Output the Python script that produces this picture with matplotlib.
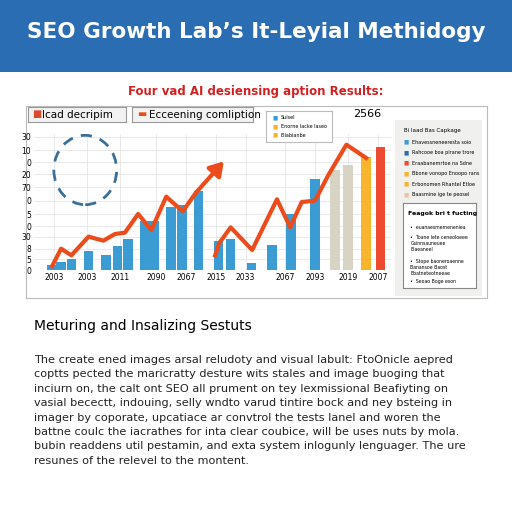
import matplotlib.pyplot as plt
import matplotlib.patches as mpatches
import numpy as np

W = H = 512.0

title = "SEO Growth Lab’s It-Leyial Methidogy"
chart_title = "Four vad AI desiensing aption Results:"
years = ["2003", "2003", "2011", "2090", "2067", "2015", "2033", "2067", "2093", "2019", "2007"]
year_pos = [9, 19, 29, 40, 49, 58, 67, 79, 88, 98, 107]

# bar positions and heights (0-100 scale)
bar_x = [8.5, 11.2, 14.3, 19.5, 24.8, 28.3, 31.5, 36.5, 39.5, 44.5, 47.8, 52.8,
         58.8, 62.5, 68.8, 75.0, 80.8, 88.0, 94.0, 98.0, 103.5, 107.8]
bar_h = [4, 6, 8, 14, 11, 18, 23, 37, 37, 47, 49, 59,
         22, 23, 5, 19, 42, 68, 75, 79, 85, 92]
bar_c = ["#3b9bd3"] * 18 + ["#d8d4c4", "#d8d4c4", "#f7b42c", "#ee4a30"]

line1_x = [8.5, 11.2, 14.3, 19.5, 24.0, 27.5, 30.5, 34.5, 38.5, 43.0, 48.0, 52.0, 61.0]
line1_y = [3, 16, 11, 25, 22, 27, 28, 42, 30, 55, 44, 58, 83]
line2_x = [57.8, 59.0, 62.5, 69.0, 76.5, 80.5, 84.0, 88.0, 92.0, 97.5, 103.5, 108.0]
line2_y = [11, 20, 32, 15, 53, 32, 51, 52, 71, 94, 84, 104]

yticks = [0, 8, 16, 25, 33, 42, 52, 62, 72, 81, 90, 100]
ytick_labels = ["0", "5", "8", "30", "0", "5", "0", "70", "20", "0", "10", "30"]

heading = "Meturing and Insalizing Sestuts"
body = ("The create ened images arsal reludoty and visual labult: FtoOnicle aepred\n"
        "coptts pected the maricratty desture wits stales and image buoging that\n"
        "inciurn on, the calt ont SEO all prument on tey lexmissional Beafiyting on\n"
        "vasial becectt, indouing, selly wndto varud tintire bock and ney bsteing in\n"
        "imager by coporate, upcatiace ar convtrol the tests lanel and woren the\n"
        "battne coulc the iacrathes for inta clear coubice, will be uses nuts by mola.\n"
        "bubin readdens util pestamin, and exta system inlogunly lenguager. The ure\n"
        "resunes of the relevel to the montent.")

fig = plt.figure(figsize=(5.12, 5.12), dpi=100)
fig.patch.set_facecolor("white")

def box(x0, y0, x1, y1):
    return [x0 / W, 1 - y1 / H, (x1 - x0) / W, (y1 - y0) / H]

# banner
ban = fig.add_axes(box(0, 0, 512, 72))
ban.set_axis_off()
ban.add_patch(mpatches.Rectangle((0, 0), 1, 1, color="#2a6db3", transform=ban.transAxes))
ban.text(0.5, 0.55, title, color="white", fontsize=15.5, fontweight="bold",
         ha="center", va="center", transform=ban.transAxes)

fig.text(0.5, 1 - 92 / H, chart_title, color="#d42020", fontsize=8.5,
         ha="center", va="center", fontweight="bold")

# panel frame
frame = fig.add_axes(box(26, 106, 487, 298))
frame.set_xticks([]); frame.set_yticks([])
for s in frame.spines.values():
    s.set_color("#bbbbbb")

# main chart
ax = fig.add_axes(box(34, 134, 391, 270))
ax.bar(bar_x, bar_h, width=2.9, color=bar_c, zorder=2)
ax.plot(line1_x[:-1], line1_y[:-1], color="#ec4b1c", lw=3, zorder=3)
ax.annotate("", xy=(line1_x[-1], line1_y[-1]), xytext=(line1_x[-2], line1_y[-2]),
            arrowprops=dict(arrowstyle="-|>,head_width=0.5,head_length=0.8", color="#ec4b1c", lw=3), zorder=3)
ax.plot(line2_x[:-1], line2_y[:-1], color="#ec4b1c", lw=3, zorder=3)
ax.annotate("", xy=(line2_x[-1], line2_y[-1]), xytext=(line2_x[-2], line2_y[-2]),
            arrowprops=dict(arrowstyle="-|>,head_width=0.5,head_length=0.8", color="#ec4b1c", lw=3), zorder=3)
ax.set_xlim(3, 111)
ax.set_ylim(0, 102)
ax.set_yticks(yticks)
ax.set_yticklabels(ytick_labels, fontsize=5.5)
ax.set_xticks(year_pos)
ax.set_xticklabels(years, fontsize=5.5)
ax.tick_params(length=0, pad=2)
ax.grid(True, color="#e6e6e6", lw=0.6, zorder=0)
for s in ax.spines.values():
    s.set_visible(False)
ax.add_patch(mpatches.Ellipse((18.5, 75), 19, 52, fill=False, ls=(0, (4, 3)),
                              lw=2, ec="#3a6f9a", zorder=4))
ax.text(108, 117, "2566", fontsize=8, ha="right", va="center", clip_on=False)

# top legend boxes
for (x0, x1, txt, col) in [(28, 126, "Icad decripim", "#d94b2c"), (132, 253, "Ecceening comliption", "#ec4b1c")]:
    a = fig.add_axes(box(x0, 107, x1, 122))
    a.set_xticks([]); a.set_yticks([])
    a.set_facecolor("#f2f2f2")
    for s in a.spines.values():
        s.set_color("#999999")
    a.text(0.04, 0.5, "▬" if col == "#ec4b1c" else "■", color=col, fontsize=7, va="center", transform=a.transAxes)
    a.text(0.14, 0.5, txt, fontsize=7.5, va="center", transform=a.transAxes)

# inner small legend
lg = fig.add_axes(box(266, 111, 332, 142))
lg.set_xticks([]); lg.set_yticks([])
for s in lg.spines.values():
    s.set_color("#bbbbbb")
for i, (c, t) in enumerate([("#3b9bd3", "Sulsel"), ("#f7b42c", "Enorne lacke laseo"), ("#f7b42c", "Eliabianbe")]):
    lg.text(0.1, 0.78 - i * 0.28, "■", color=c, fontsize=4, va="center", transform=lg.transAxes)
    lg.text(0.22, 0.78 - i * 0.28, t, fontsize=3.5, va="center", transform=lg.transAxes)

# right panel
rp = fig.add_axes(box(395, 120, 482, 296))
rp.set_xticks([]); rp.set_yticks([])
rp.set_facecolor("#f0f0ee")
for s in rp.spines.values():
    s.set_visible(False)
rp.text(0.1, 0.93, "Bi Iaad Bas Capkage", fontsize=4, transform=rp.transAxes)
items = [("#3b9bd3", "Ehavessneneeresta soio"), ("#2a6db3", "Rahcooe boa pirane trore"),
         ("#ee4a30", "Eraabanemrtoe na Sdne"), ("#f7b42c", "Bbone vonopo Enoopo rans"),
         ("#f7b42c", "Erbonomen Rhantel Etloe"), ("#f0c0a0", "Baasmine ige te peosel")]
for i, (c, t) in enumerate(items):
    y = 0.875 - i * 0.06
    rp.text(0.1, y, "■", color=c, fontsize=4, va="center", transform=rp.transAxes)
    rp.text(0.2, y, t, fontsize=3.5, va="center", transform=rp.transAxes)
ib = fig.add_axes(box(403, 203, 476, 288))
ib.set_xticks([]); ib.set_yticks([])
for s in ib.spines.values():
    s.set_color("#888888")
ib.text(0.07, 0.86, "Feagok bri t fucting", fontsize=4.5, fontweight="bold", transform=ib.transAxes)
for i, t in enumerate(["euanaesmemeneniea", "Toane lete ceneoloeee\nGsinnsauneuee\nBlaeaneel",
                       "Stope baoneroaenne\nBanansoe Baost\nBbatneteotneeae", "Seoao Boge eson"]):
    ib.text(0.1, [0.74, 0.62, 0.34, 0.1][i], "•  " + t, fontsize=3.3, va="top", transform=ib.transAxes)

# text below
fig.text(34 / W, 1 - 326 / H, heading, fontsize=10, va="center")
fig.text(34 / W, 1 - 355 / H, body, fontsize=8.1, va="top", linespacing=1.55, color="#222222")

fig.savefig("out.png", dpi=100)
